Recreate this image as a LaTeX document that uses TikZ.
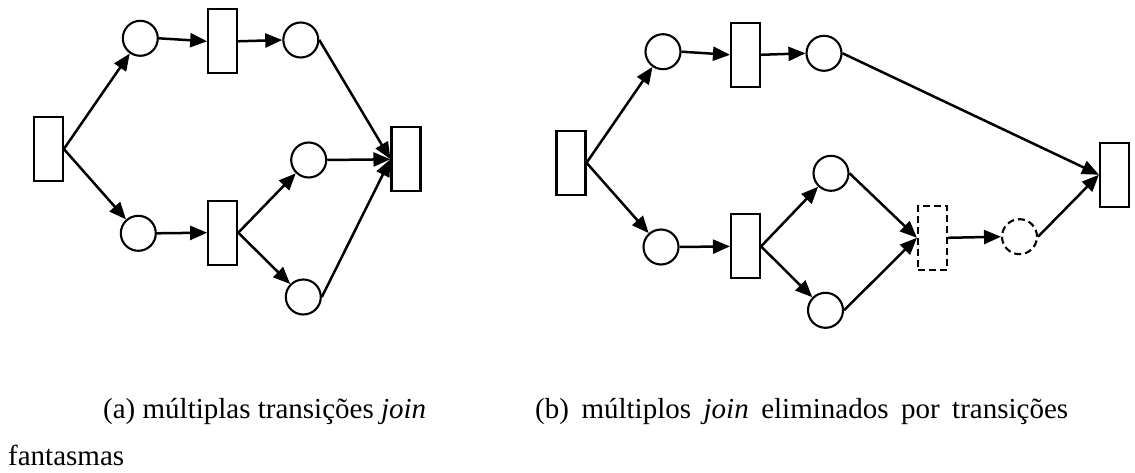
\documentclass[tikz,border=0pt]{standalone}
\usepackage{fontspec}
\setmainfont{Liberation Serif}
\usetikzlibrary{arrows.meta}
\begin{document}
\begin{tikzpicture}[x=1pt,y=-1pt,
  place/.style={circle,draw,line width=2.1pt,minimum size=35pt,inner sep=0pt},
  trans/.style={rectangle,draw,line width=2.1pt,minimum width=29pt,minimum height=64pt,inner sep=0pt},
  ghost/.style={dash pattern=on 7pt off 4pt},
  arc/.style={line width=2.5pt,-{Triangle[length=17pt,width=14pt]}},
  captext/.style={anchor=base west,inner sep=0pt,font=\fontsize{29}{35}\selectfont}]
\useasboundingbox (0,0) rectangle (1135,473);
% ---- left (a)
\node[trans] (a0) at (48.3,149) {};
\node[place] (a1) at (140.3,38.3) {};
\node[trans] (a2) at (222.7,41.3) {};
\node[place] (a3) at (300.8,40) {};
\node[place] (a4) at (138.3,233.3) {};
\node[trans] (a5) at (222.7,232.7) {};
\node[place] (a6) at (308.7,160) {};
\node[place] (a7) at (303.3,297) {};
\node[trans] (a8) at (406,159.3) {};
\draw[arc] (a0.east) -- (a1);
\draw[arc] (a0.east) -- (a4);
\draw[arc] (a1.east) -- (a2.west);
\draw[arc] (a2.east) -- (a3.west);
\draw[arc] (a4.east) -- (a5.west);
\draw[arc] (a5.east) -- (a6);
\draw[arc] (a5.east) -- (a7);
\draw[arc] (a3.east) -- (a8.west);
\draw[arc] (a6.east) -- (a8.west);
\draw[arc] (a7.east) -- (a8.west);
% ---- right (b)
\node[trans] (b0) at (571,162.8) {};
\node[place] (b1) at (663,51.7) {};
\node[trans] (b2) at (745.5,54.8) {};
\node[place] (b3) at (824,53.3) {};
\node[place] (b4) at (661,247) {};
\node[trans] (b5) at (745.5,246.4) {};
\node[place] (b6) at (831,173.3) {};
\node[place] (b7) at (825.5,310.3) {};
\node[trans,ghost] (b8) at (932.5,237.8) {};
\node[place,ghost] (b9) at (1019.5,236.7) {};
\node[trans] (b10) at (1114.5,174.7) {};
\draw[arc] (b0.east) -- (b1);
\draw[arc] (b0.east) -- (b4);
\draw[arc] (b1.east) -- (b2.west);
\draw[arc] (b2.east) -- (b3.west);
\draw[arc] (b4.east) -- (b5.west);
\draw[arc] (b5.east) -- (b6);
\draw[arc] (b5.east) -- (b7);
\draw[arc] (b6.east) -- (b8.west);
\draw[arc] (b7.east) -- (b8.west);
\draw[arc] (b8.east) -- (b9.west);
\draw[arc] (b3.east) -- (b10.west);
\draw[arc] (b9.east) -- (b10.west);
% ---- captions
\node[captext] (ca) at (103,418) {(a) múltiplas transições \textit{join}};
\node[captext] (cb) at (535,418) {\makebox[533pt][s]{(b) múltiplos \textit{join} eliminados por transições}};
\node[captext] (cc) at (8,465) {fantasmas};
\end{tikzpicture}
\end{document}
